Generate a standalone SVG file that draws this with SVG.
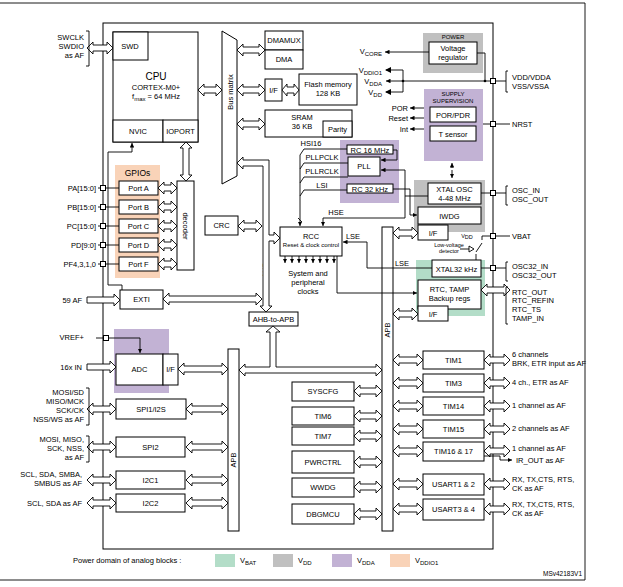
<svg xmlns="http://www.w3.org/2000/svg" xmlns:xlink="http://www.w3.org/1999/xlink" width="623" height="587" viewBox="0 0 623 587">
<style>
.b{fill:#fff;stroke:#000;stroke-width:1}
.ar{fill:#fff;stroke:#000;stroke-width:0.9}
.l{fill:none;stroke:#000;stroke-width:0.9}
text{font-family:"Liberation Sans",Arial,sans-serif;font-size:7.5px;fill:#000}
.c{text-anchor:middle}
.r{text-anchor:end}
.s{font-size:6px}
</style>
<defs>
<marker id="m" viewBox="0 0 6 6" refX="6" refY="3" markerWidth="5" markerHeight="5" orient="auto"><path d="M0,0L6,3L0,6z" fill="#000"/></marker>
<polygon id="a17" class="ar" points="0,0 5,-6 5,-3 12,-3 12,-6 17,0 12,6 12,3 5,3 5,6"/>
<polygon id="a19" class="ar" points="0,0 6,-6 6,-3 13,-3 13,-6 19,0 13,6 13,3 6,3 6,6"/>
<polygon id="a24" class="ar" points="0,0 6,-6 6,-3 18,-3 18,-6 24,0 18,6 18,3 6,3 6,6"/>
<polygon id="a25" class="ar" points="0,0 6,-6 6,-3 19,-3 19,-6 25,0 19,6 19,3 6,3 6,6"/>
<polygon id="a26" class="ar" points="0,0 6,-6 6,-3 20,-3 20,-6 26,0 20,6 20,3 6,3 6,6"/>
<polygon id="a28" class="ar" points="0,0 6,-6 6,-3 22,-3 22,-6 28,0 22,6 22,3 6,3 6,6"/>
<polygon id="a29" class="ar" points="0,0 6,-6 6,-3 23,-3 23,-6 29,0 23,6 23,3 6,3 6,6"/>
<polygon id="a30" class="ar" points="0,0 6,-6 6,-3 24,-3 24,-6 30,0 24,6 24,3 6,3 6,6"/>
<polygon id="a39" class="ar" points="0,0 6,-6 6,-3 33,-3 33,-6 39,0 33,6 33,3 6,3 6,6"/>
<polygon id="a42" class="ar" points="0,0 6,-6 6,-3 36,-3 36,-6 42,0 36,6 36,3 6,3 6,6"/>
<polygon id="a50" class="ar" points="0,0 6,-6 6,-3 44,-3 44,-6 50,0 44,6 44,3 6,3 6,6"/>
<polygon id="a99" class="ar" points="0,0 6,-6 6,-3 93,-3 93,-6 99,0 93,6 93,3 6,3 6,6"/>
<polygon id="s33" class="ar" points="0,-3 27,-3 27,-6 33,0 27,6 27,3 0,3"/>
<polygon id="s29" class="ar" points="0,-3 23,-3 23,-6 29,0 23,6 23,3 0,3"/>
<rect id="pin" class="b" x="-2.5" y="-2.5" width="5" height="5"/>
</defs>
<rect width="623" height="587" fill="#fff"/>
<polyline class="l" points="0,3 585,3 585,580 0,580" stroke-width="1.2"/>
<rect x="103" y="23" width="390" height="526" style="fill:none;stroke:#000;stroke-width:1"/>

<g id="bg">
<rect x="115" y="165" width="45" height="113" fill="#f9d3b8"/>
<rect x="114" y="329" width="55" height="64" fill="#c2b2d4"/>
<rect x="423" y="33" width="60" height="40" fill="#c0c0c0"/>
<rect x="424" y="89" width="59" height="72" fill="#c2b2d4"/>
<rect x="340" y="140" width="59" height="63" fill="#c2b2d4"/>
<rect x="414" y="180" width="71" height="52" fill="#c0c0c0"/>
<rect x="416" y="260" width="69" height="56" fill="#b3ddc8"/>
</g>

<g id="cpu">
<rect class="b" x="113" y="32" width="85" height="110"/>
<rect class="b" x="113" y="32" width="35" height="28"/>
<text x="130" y="49" class="c">SWD</text>
<text x="156" y="80" class="c" style="font-size:10px">CPU</text>
<text x="156" y="90" class="c">CORTEX-M0+</text>
<text x="156" y="99" class="c">f<tspan class="s" dy="1.5">max</tspan><tspan dy="-1.5"> = 64 MHz</tspan></text>
<rect class="b" x="113" y="120" width="50" height="22"/>
<text x="138" y="134" class="c">NVIC</text>
<rect class="b" x="163" y="120" width="35" height="22"/>
<text x="180.5" y="134" class="c">IOPORT</text>
</g>
<g id="busmatrix">
<polygon class="b" points="222,31 237,40 237,176 222,184"/>
<text transform="translate(233,92) rotate(-90)" class="c">Bus matrix</text>
</g>
<g id="dma">
<rect class="b" x="265" y="31" width="38" height="19"/><text x="284" y="43" class="c">DMAMUX</text>
<rect class="b" x="265" y="50" width="38" height="19"/><text x="284" y="62" class="c">DMA</text>
</g>
<g id="flash">
<rect class="b" x="265" y="79" width="17" height="22"/><text x="273.5" y="93" class="c">I/F</text>
<rect class="b" x="299" y="74" width="58" height="31"/><text x="328" y="87" class="c">Flash memory</text><text x="328" y="96" class="c">128 KB</text>
</g>
<g id="sram">
<rect class="b" x="265" y="110" width="87" height="27"/><text x="302" y="120" class="c">SRAM</text><text x="302" y="129" class="c">36 KB</text>
<rect class="b" x="323" y="121" width="29" height="16"/><text x="337.5" y="131.5" class="c">Parity</text>
</g>
<g id="gpio">
<text x="137.5" y="176" class="c" style="font-size:8.5px">GPIOs</text>
<rect class="b" x="119" y="181" width="39" height="14"/><text x="138.5" y="191" class="c">Port A</text>
<rect class="b" x="119" y="200" width="39" height="14"/><text x="138.5" y="210" class="c">Port B</text>
<rect class="b" x="119" y="219" width="39" height="14"/><text x="138.5" y="229" class="c">Port C</text>
<rect class="b" x="119" y="238" width="39" height="14"/><text x="138.5" y="248" class="c">Port D</text>
<rect class="b" x="119" y="257" width="39" height="14"/><text x="138.5" y="267" class="c">Port F</text>
<rect class="b" x="177" y="181" width="17" height="89"/>
<text transform="translate(183,226) rotate(90)" class="c">decoder</text>
<text x="96" y="191" class="r">PA[15:0]</text>
<text x="96" y="210" class="r">PB[15:0]</text>
<text x="96" y="229" class="r">PC[15:0]</text>
<text x="96" y="248" class="r">PD[9:0]</text>
<text x="96" y="267" class="r">PF4,3,1,0</text>
</g>
<g id="crc"><rect class="b" x="205" y="216" width="33" height="19"/><text x="221.5" y="228" class="c">CRC</text></g>
<g id="rcc">
<rect class="b" x="280" y="227" width="62" height="29"/>
<text x="311" y="239" class="c">RCC</text>
<text x="311" y="247" class="c" style="font-size:6px">Reset &amp; clock control</text>
<text x="308" y="276" class="c">System and</text><text x="308" y="285" class="c">peripheral</text><text x="308" y="294" class="c">clocks</text>
</g>
<g id="exti"><rect class="b" x="120" y="290" width="43" height="19"/><text x="141.5" y="302" class="c">EXTI</text></g>
<g id="ahb2apb"><rect class="b" x="249" y="312" width="49" height="14"/><text x="273.5" y="322" class="c">AHB-to-APB</text></g>
<text transform="translate(268,270) rotate(-90)" class="c">AHB</text>
<g id="adc">
<rect class="b" x="116" y="354" width="47" height="31"/><text x="139.5" y="372" class="c">ADC</text>
<rect class="b" x="163" y="354" width="15" height="31"/><text x="170.5" y="372" class="c">I/F</text>
</g>
<g id="apb1"><rect class="b" x="228" y="349" width="11" height="182"/><text transform="translate(236,460) rotate(-90)" class="c">APB</text></g>
<g id="apb2"><rect class="b" x="382" y="227" width="11" height="304"/><text transform="translate(390,330) rotate(-90)" class="c">APB</text></g>
<g id="spi">
<rect class="b" x="116" y="399" width="70" height="20"/><text x="151" y="412" class="c">SPI1/I2S</text>
<rect class="b" x="116" y="437" width="69" height="20"/><text x="150.5" y="450" class="c">SPI2</text>
<rect class="b" x="116" y="471" width="69" height="18"/><text x="150.5" y="483" class="c">I2C1</text>
<rect class="b" x="116" y="494" width="69" height="18"/><text x="150.5" y="506" class="c">I2C2</text>
</g>
<g id="mid">
<rect class="b" x="292" y="382" width="62" height="19"/><text x="323" y="394" class="c">SYSCFG</text>
<rect class="b" x="292" y="407" width="62" height="18"/><text x="323" y="419" class="c">TIM6</text>
<rect class="b" x="292" y="427" width="62" height="18"/><text x="323" y="439" class="c">TIM7</text>
<rect class="b" x="292" y="451" width="62" height="22"/><text x="323" y="465" class="c">PWRCTRL</text>
<rect class="b" x="292" y="478" width="62" height="19"/><text x="323" y="490" class="c">WWDG</text>
<rect class="b" x="292" y="504" width="62" height="20"/><text x="323" y="517" class="c">DBGMCU</text>
</g>
<g id="tims">
<rect class="b" x="423" y="351" width="61" height="18"/><text x="453.5" y="363" class="c">TIM1</text>
<rect class="b" x="423" y="374" width="61" height="18"/><text x="453.5" y="386" class="c">TIM3</text>
<rect class="b" x="423" y="397" width="61" height="18"/><text x="453.5" y="409" class="c">TIM14</text>
<rect class="b" x="423" y="420" width="61" height="18"/><text x="453.5" y="432" class="c">TIM15</text>
<rect class="b" x="423" y="442" width="61" height="19"/><text x="453.5" y="454" class="c">TIM16 &amp; 17</text>
<rect class="b" x="423" y="474" width="61" height="21"/><text x="453.5" y="487" class="c">USART1 &amp; 2</text>
<rect class="b" x="423" y="499" width="61" height="21"/><text x="453.5" y="512" class="c">USART3 &amp; 4</text>
</g>
<g id="power">
<text x="453" y="39" class="c" style="font-size:6px">POWER</text>
<rect class="b" x="429" y="42" width="48" height="22"/><text x="453" y="51" class="c">Voltage</text><text x="453" y="60" class="c">regulator</text>
<text x="382" y="54" class="r">V<tspan class="s" dy="1.5">CORE</tspan></text>
<text x="382" y="73" class="r">V<tspan class="s" dy="1.5">DDIO1</tspan></text>
<text x="382" y="84" class="r">V<tspan class="s" dy="1.5">DDA</tspan></text>
<text x="382" y="95" class="r">V<tspan class="s" dy="1.5">DD</tspan></text>
</g>
<g id="supervision">
<text x="453" y="96" class="c" style="font-size:6px">SUPPLY</text><text x="453" y="103" class="c" style="font-size:6px">SUPERVISION</text>
<rect class="b" x="430" y="107" width="46" height="15"/><text x="453" y="117.5" class="c">POR/PDR</text>
<rect class="b" x="430" y="126" width="46" height="15"/><text x="453" y="136.5" class="c">T sensor</text>
<text x="408" y="111" class="r">POR</text><text x="408" y="121" class="r">Reset</text><text x="408" y="132" class="r">Int</text>
</g>
<g id="pll">
<rect class="b" x="347" y="145" width="46" height="9"/><text x="370" y="152.5" class="c">RC 16 MHz</text>
<rect class="b" x="348" y="157" width="32" height="19"/><text x="364" y="169" class="c">PLL</text>
<rect class="b" x="347" y="184" width="46" height="9"/><text x="370" y="191.5" class="c">RC 32 kHz</text>
<text x="311" y="146" class="c">HSI16</text>
<text x="322" y="160" class="c">PLLPCLK</text>
<text x="322" y="174" class="c">PLLRCLK</text>
<text x="322" y="188" class="c">LSI</text>
<text x="336" y="215" class="c">HSE</text>
<text x="353" y="239" class="c">LSE</text>
<text x="402" y="266" class="c">LSE</text>
</g>
<g id="xtal">
<rect class="b" x="428" y="183" width="53" height="21"/><text x="454.5" y="192" class="c">XTAL OSC</text><text x="454.5" y="201" class="c">4-48 MHz</text>
<rect class="b" x="418" y="207" width="63" height="17"/><text x="449.5" y="218.5" class="c">IWDG</text>
<rect class="b" x="418" y="225" width="30" height="15"/><text x="433" y="235.5" class="c">I/F</text>
<text x="467" y="238" class="c" style="font-size:5.5px">V<tspan dy="1">DD</tspan></text>
<text x="449" y="247" class="c" style="font-size:5.5px">Low-voltage</text><text x="449" y="253" class="c" style="font-size:5.5px">detector</text>
</g>
<g id="rtc">
<rect class="b" x="432" y="260" width="49" height="17"/><text x="456.5" y="271.5" class="c">XTAL32 kHz</text>
<rect class="b" x="418" y="280" width="63" height="29"/><text x="449.5" y="292" class="c">RTC, TAMP</text><text x="449.5" y="301" class="c">Backup regs</text>
<rect class="b" x="418" y="306" width="30" height="15"/><text x="433" y="316.5" class="c">I/F</text>
</g>
<g id="labels">
<text x="84" y="40" class="r">SWCLK</text><text x="84" y="49" class="r">SWDIO</text><text x="84" y="58" class="r">as AF</text>
<text x="82" y="303" class="r">59 AF</text>
<text x="84" y="340" class="r">VREF+</text>
<text x="82" y="370" class="r">16x IN</text>
<text x="84" y="395" class="r">MOSI/SD</text><text x="84" y="404" class="r">MISO/MCK</text><text x="84" y="413" class="r">SCK/CK</text><text x="84" y="422" class="r">NSS/WS as AF</text>
<text x="84" y="442" class="r">MOSI, MISO,</text><text x="84" y="451" class="r">SCK, NSS,</text><text x="84" y="460" class="r">as AF</text>
<text x="82" y="477" class="r">SCL, SDA, SMBA,</text><text x="82" y="486" class="r">SMBUS as AF</text>
<text x="82" y="506" class="r">SCL, SDA as AF</text>
<text x="512" y="80">VDD/VDDA</text><text x="512" y="89">VSS/VSSA</text>
<text x="512" y="127">NRST</text>
<text x="512" y="193">OSC_IN</text><text x="512" y="202">OSC_OUT</text>
<text x="512" y="239">VBAT</text>
<text x="512" y="269">OSC32_IN</text><text x="512" y="278">OSC32_OUT</text>
<text x="512" y="295">RTC_OUT</text><text x="512" y="303">RTC_REFIN</text><text x="512" y="312">RTC_TS</text><text x="512" y="321">TAMP_IN</text>
<text x="512" y="357">6 channels</text><text x="512" y="366">BRK, ETR input as AF</text>
<text x="512" y="385">4 ch., ETR as AF</text>
<text x="512" y="408">1 channel as AF</text>
<text x="512" y="431">2 channels as AF</text>
<text x="512" y="451">1 channel as AF</text><text x="516" y="463">IR_OUT as AF</text>
<text x="512" y="482">RX, TX,CTS, RTS,</text><text x="512" y="491">CK as AF</text>
<text x="512" y="507">RX, TX,CTS, RTS,</text><text x="512" y="516">CK as AF</text>
</g>
<g id="legend">
<text x="73" y="563">Power domain of analog blocks :</text>
<rect x="215" y="554" width="20" height="13" fill="#b3ddc8"/><text x="240" y="563">V<tspan class="s" dy="1.5">BAT</tspan></text>
<rect x="273" y="554" width="20" height="13" fill="#c0c0c0"/><text x="298" y="563">V<tspan class="s" dy="1.5">DD</tspan></text>
<rect x="332" y="554" width="20" height="13" fill="#c2b2d4"/><text x="357" y="563">V<tspan class="s" dy="1.5">DDA</tspan></text>
<rect x="390" y="554" width="20" height="13" fill="#f9d3b8"/><text x="415" y="563">V<tspan class="s" dy="1.5">DDIO1</tspan></text>
<text x="582" y="576" class="r" style="font-size:6.5px">MSv42183V1</text>
</g>

<g id="connectors">
<use href="#a26" x="87" y="48"/>
<use href="#a24" x="198" y="90"/>
<use href="#a28" x="237" y="50"/>
<use href="#a28" x="237" y="90"/>
<use href="#a17" x="282" y="90"/>
<use href="#a28" x="237" y="124"/>
<use href="#a19" x="158" y="188"/><use href="#a19" x="158" y="207"/><use href="#a19" x="158" y="226"/><use href="#a19" x="158" y="245"/><use href="#a19" x="158" y="264"/>
<use href="#a39" transform="translate(186,142) rotate(90)"/>
<use href="#a24" x="238" y="226"/>
<use href="#a99" x="163" y="299"/>
<use href="#s33" x="87" y="300"/>
<use href="#s29" x="87" y="367"/>
<use href="#a50" x="178" y="369"/>
<polygon class="ar" points="239,370 245,364 245,367 270,367 270,332 266,332 273,326 280,332 276,332 276,367 376,367 376,364 382,370 376,376 376,373 245,373 245,376"/>
<polygon class="ar" points="237,163 243,157 243,160 269,160 269,235 274,235 274,232 280,238 274,244 274,241 269,241 269,306 272,306 266,312 260,306 263,306 263,166 243,166 243,169"/>
<use href="#a29" x="87" y="409"/><use href="#a42" x="186" y="409"/>
<use href="#a29" x="87" y="447"/><use href="#a42" x="186" y="447"/>
<use href="#a29" x="87" y="480"/><use href="#a42" x="186" y="480"/>
<use href="#a29" x="87" y="503"/><use href="#a42" x="186" y="503"/>
<use href="#a28" x="354" y="391"/><use href="#a28" x="354" y="416"/><use href="#a28" x="354" y="436"/><use href="#a28" x="354" y="462"/><use href="#a28" x="354" y="487"/><use href="#a28" x="354" y="514"/>
<use href="#a30" x="393" y="360"/><use href="#a30" x="393" y="383"/><use href="#a30" x="393" y="406"/><use href="#a30" x="393" y="429"/><use href="#a30" x="393" y="451"/><use href="#a30" x="393" y="484"/><use href="#a30" x="393" y="509"/>
<use href="#a26" x="484" y="360"/><use href="#a26" x="484" y="383"/><use href="#a26" x="484" y="406"/><use href="#a26" x="484" y="429"/><use href="#a26" x="484" y="451"/><use href="#a26" x="484" y="484"/><use href="#a26" x="484" y="509"/>
<use href="#a25" x="393" y="233"/><use href="#a25" x="393" y="314"/>
<use href="#a29" x="481" y="290"/>
<polyline class="l" points="108,285 108,152 132,152"/>
<line class="l" x1="132" y1="152" x2="132" y2="143" marker-end="url(#m)"/>
<polyline class="l" points="108,285 122,285 122,290"/>
<polyline class="l" points="109,338 140,338 140,353" marker-end="url(#m)"/>
<line class="l" x1="96" y1="338" x2="104" y2="338"/>
<line class="l" x1="98" y1="188" x2="119" y2="188"/><line class="l" x1="98" y1="207" x2="119" y2="207"/><line class="l" x1="98" y1="226" x2="119" y2="226"/><line class="l" x1="98" y1="245" x2="119" y2="245"/><line class="l" x1="98" y1="264" x2="119" y2="264"/>
<polyline class="l" points="86,31 89,31 89,66 86,66"/>
<polyline class="l" points="86,388 89,388 89,425 86,425"/>
<polyline class="l" points="86,436 89,436 89,462 86,462"/>
<polyline class="l" points="347,149 304,149 300,155 300,226" marker-end="url(#m)"/>
<polyline class="l" points="348,163 304,163 300,169"/>
<polyline class="l" points="348,177 304,177 300,183"/>
<polyline class="l" points="347,190 304,190 300,196"/>
<line class="l" x1="298" y1="218" x2="302" y2="222"/>
<polyline class="l" points="393,150 397,150 397,160 381,160" marker-end="url(#m)"/>
<polyline class="l" points="393,189 410,189 410,215 417,215" marker-end="url(#m)"/>
<polyline class="l" points="428,196 405,196 405,218 323,218 323,226" marker-end="url(#m)"/>
<polyline class="l" points="405,196 405,170 381,170" marker-end="url(#m)"/>
<polyline class="l" points="432,268 367,268 367,242 343,242" marker-end="url(#m)"/>
<polyline class="l" points="337,256 337,293 417,293" marker-end="url(#m)"/>
<line class="l" x1="285" y1="256" x2="285" y2="263" marker-end="url(#m)"/><line class="l" x1="292" y1="256" x2="292" y2="263" marker-end="url(#m)"/><line class="l" x1="299" y1="256" x2="299" y2="263" marker-end="url(#m)"/><line class="l" x1="306" y1="256" x2="306" y2="263" marker-end="url(#m)"/><line class="l" x1="313" y1="256" x2="313" y2="263" marker-end="url(#m)"/><line class="l" x1="320" y1="256" x2="320" y2="263" marker-end="url(#m)"/><line class="l" x1="327" y1="256" x2="327" y2="263" marker-end="url(#m)"/><line class="l" x1="334" y1="256" x2="334" y2="263" marker-end="url(#m)"/>
<line class="l" x1="429" y1="52" x2="385" y2="52" marker-end="url(#m)"/>
<polyline class="l" points="477,53 485,53 485,80"/>
<line class="l" x1="493" y1="81" x2="386" y2="81" marker-end="url(#m)"/>
<polyline class="l" points="386,70 403,70 403,92 386,92"/>
<polygon points="391,67 391,73 385,70" fill="#000"/>
<polygon points="391,89 391,95 385,92" fill="#000"/>
<circle cx="403" cy="81" r="1.3"/><circle cx="485" cy="81" r="1.3"/>
<line class="l" x1="424" y1="108" x2="410" y2="108" marker-end="url(#m)"/>
<line class="l" x1="424" y1="118" x2="410" y2="118" marker-end="url(#m)"/>
<line class="l" x1="424" y1="129" x2="410" y2="129" marker-end="url(#m)"/>
<line class="l" x1="452" y1="168" x2="452" y2="163" marker-end="url(#m)"/>
<line class="l" x1="452" y1="170" x2="452" y2="178" marker-end="url(#m)"/>
<line class="l" x1="483" y1="124" x2="510" y2="124"/>
<line class="l" x1="481" y1="193" x2="493" y2="193"/>
<line class="l" x1="481" y1="268" x2="493" y2="268"/>
<line class="l" x1="493" y1="81" x2="506" y2="81"/>
<line class="l" x1="493" y1="193" x2="506" y2="193"/>
<line class="l" x1="493" y1="268" x2="506" y2="268"/>
<line class="l" x1="493" y1="236" x2="510" y2="236"/>
<polyline class="l" points="493,236 482,236 482,240"/>
<line class="l" x1="482" y1="243" x2="476" y2="252"/>
<polyline class="l" points="476,254 476,260"/>
<polyline class="l" points="460,249 469,249"/>
<polygon class="ar" points="469,246 469,252 474,249"/>
<polyline class="l" points="508,71 506,71 506,92 508,92"/>
<polyline class="l" points="508,186 506,186 506,205 508,205"/>
<polyline class="l" points="508,262 506,262 506,281 508,281"/>
<polyline class="l" points="508,287 506,287 506,324 508,324"/>
<polyline class="l" points="484,456 500,456 500,460 512,460" marker-end="url(#m)"/>
<use href="#pin" x="103" y="188"/><use href="#pin" x="103" y="207"/><use href="#pin" x="103" y="226"/><use href="#pin" x="103" y="245"/><use href="#pin" x="103" y="264"/>
<use href="#pin" x="106" y="338"/>
<use href="#pin" x="493" y="81"/><use href="#pin" x="493" y="124"/><use href="#pin" x="493" y="193"/><use href="#pin" x="493" y="236"/><use href="#pin" x="493" y="268"/>
</g>
</svg>
